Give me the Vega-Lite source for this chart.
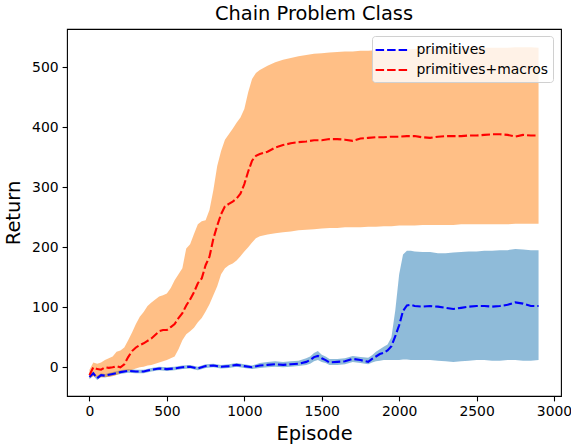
{
  "$schema": "https://vega.github.io/schema/vega-lite/v6.json",
  "autosize": {"type": "none"},
  "width": 494,
  "height": 367,
  "padding": {"left": 67, "top": 29, "right": 10, "bottom": 51},
  "background": "white",
  "title": {"text": "Chain Problem Class", "font": "DejaVu Sans", "fontSize": 19.4, "fontWeight": "normal", "color": "black", "frame": "group", "offset": 5},
  "config": {
    "view": {"stroke": "black", "strokeWidth": 1.1},
    "axis": {"domain": false, "grid": false, "tickColor": "black", "tickWidth": 1.1, "tickSize": 4.9, "labelFont": "DejaVu Sans", "labelFontSize": 13.9, "labelColor": "black", "labelPadding": 4, "titleFont": "DejaVu Sans", "titleFontSize": 19.4, "titleFontWeight": "normal", "titleColor": "black"},
    "legend": {"labelFont": "DejaVu Sans", "labelFontSize": 13.9, "labelColor": "black"}
  },
  "datasets": {"rows": [
    {"ep":0,"s":"primitives","m":-16,"lo":-20,"hi":-12},
    {"ep":25,"s":"primitives","m":-10,"lo":-14,"hi":-7},
    {"ep":50,"s":"primitives","m":-18,"lo":-21,"hi":-14},
    {"ep":75,"s":"primitives","m":-13,"lo":-16,"hi":-10},
    {"ep":100,"s":"primitives","m":-14,"lo":-17,"hi":-11},
    {"ep":150,"s":"primitives","m":-11,"lo":-14,"hi":-8},
    {"ep":200,"s":"primitives","m":-8,"lo":-11,"hi":-5},
    {"ep":250,"s":"primitives","m":-6,"lo":-9,"hi":-3},
    {"ep":300,"s":"primitives","m":-7,"lo":-10,"hi":-4},
    {"ep":350,"s":"primitives","m":-7,"lo":-10,"hi":-4},
    {"ep":400,"s":"primitives","m":-4,"lo":-7,"hi":-1},
    {"ep":450,"s":"primitives","m":-2,"lo":-5,"hi":1},
    {"ep":500,"s":"primitives","m":-3,"lo":-6,"hi":0},
    {"ep":550,"s":"primitives","m":-2,"lo":-5,"hi":1},
    {"ep":600,"s":"primitives","m":0,"lo":-3,"hi":3},
    {"ep":650,"s":"primitives","m":1,"lo":-2,"hi":4},
    {"ep":700,"s":"primitives","m":-2,"lo":-5,"hi":1},
    {"ep":750,"s":"primitives","m":2,"lo":-1,"hi":5},
    {"ep":800,"s":"primitives","m":3,"lo":0,"hi":6},
    {"ep":850,"s":"primitives","m":1,"lo":-2,"hi":4},
    {"ep":900,"s":"primitives","m":2,"lo":-1,"hi":5},
    {"ep":950,"s":"primitives","m":4,"lo":1,"hi":7},
    {"ep":1000,"s":"primitives","m":2,"lo":-1,"hi":5},
    {"ep":1050,"s":"primitives","m":0,"lo":-3,"hi":3},
    {"ep":1100,"s":"primitives","m":3,"lo":-1,"hi":7},
    {"ep":1150,"s":"primitives","m":4,"lo":0,"hi":9},
    {"ep":1200,"s":"primitives","m":5,"lo":1,"hi":10},
    {"ep":1250,"s":"primitives","m":4,"lo":0,"hi":9},
    {"ep":1300,"s":"primitives","m":5,"lo":1,"hi":10},
    {"ep":1350,"s":"primitives","m":6,"lo":2,"hi":11},
    {"ep":1400,"s":"primitives","m":9,"lo":4,"hi":15},
    {"ep":1425,"s":"primitives","m":12,"lo":6,"hi":18},
    {"ep":1450,"s":"primitives","m":17,"lo":10,"hi":24},
    {"ep":1475,"s":"primitives","m":19,"lo":12,"hi":27},
    {"ep":1500,"s":"primitives","m":15,"lo":9,"hi":21},
    {"ep":1525,"s":"primitives","m":12,"lo":7,"hi":18},
    {"ep":1550,"s":"primitives","m":8,"lo":4,"hi":14},
    {"ep":1600,"s":"primitives","m":9,"lo":4,"hi":14},
    {"ep":1650,"s":"primitives","m":10,"lo":5,"hi":15},
    {"ep":1700,"s":"primitives","m":14,"lo":9,"hi":19},
    {"ep":1750,"s":"primitives","m":12,"lo":7,"hi":17},
    {"ep":1800,"s":"primitives","m":9,"lo":5,"hi":16},
    {"ep":1825,"s":"primitives","m":14,"lo":8,"hi":20},
    {"ep":1850,"s":"primitives","m":18,"lo":10,"hi":26},
    {"ep":1875,"s":"primitives","m":22,"lo":11,"hi":30},
    {"ep":1900,"s":"primitives","m":24,"lo":12,"hi":34},
    {"ep":1925,"s":"primitives","m":28,"lo":12,"hi":38},
    {"ep":1950,"s":"primitives","m":35,"lo":12,"hi":50},
    {"ep":1975,"s":"primitives","m":52,"lo":12,"hi":95},
    {"ep":2000,"s":"primitives","m":70,"lo":12,"hi":155},
    {"ep":2025,"s":"primitives","m":94,"lo":13,"hi":188},
    {"ep":2050,"s":"primitives","m":103,"lo":13,"hi":194},
    {"ep":2075,"s":"primitives","m":104,"lo":12,"hi":194},
    {"ep":2100,"s":"primitives","m":102,"lo":12,"hi":193},
    {"ep":2150,"s":"primitives","m":101,"lo":12,"hi":192},
    {"ep":2200,"s":"primitives","m":102,"lo":12,"hi":192},
    {"ep":2250,"s":"primitives","m":101,"lo":11,"hi":190},
    {"ep":2300,"s":"primitives","m":99,"lo":10,"hi":190},
    {"ep":2350,"s":"primitives","m":97,"lo":9,"hi":191},
    {"ep":2400,"s":"primitives","m":99,"lo":10,"hi":192},
    {"ep":2450,"s":"primitives","m":101,"lo":11,"hi":193},
    {"ep":2500,"s":"primitives","m":102,"lo":12,"hi":193},
    {"ep":2550,"s":"primitives","m":102,"lo":12,"hi":194},
    {"ep":2600,"s":"primitives","m":101,"lo":11,"hi":194},
    {"ep":2650,"s":"primitives","m":102,"lo":11,"hi":195},
    {"ep":2700,"s":"primitives","m":104,"lo":12,"hi":195},
    {"ep":2750,"s":"primitives","m":108,"lo":12,"hi":197},
    {"ep":2800,"s":"primitives","m":106,"lo":11,"hi":196},
    {"ep":2850,"s":"primitives","m":102,"lo":11,"hi":195},
    {"ep":2900,"s":"primitives","m":102,"lo":12,"hi":195},
    {"ep":0,"s":"primitives+macros","m":-13,"lo":-18,"hi":-4},
    {"ep":25,"s":"primitives+macros","m":0,"lo":-15,"hi":8},
    {"ep":50,"s":"primitives+macros","m":-3,"lo":-16,"hi":6},
    {"ep":75,"s":"primitives+macros","m":-4,"lo":-17,"hi":8},
    {"ep":100,"s":"primitives+macros","m":0,"lo":-16,"hi":12},
    {"ep":125,"s":"primitives+macros","m":-1,"lo":-16,"hi":15},
    {"ep":150,"s":"primitives+macros","m":0,"lo":-15,"hi":18},
    {"ep":175,"s":"primitives+macros","m":2,"lo":-13,"hi":26},
    {"ep":200,"s":"primitives+macros","m":0,"lo":-10,"hi":28},
    {"ep":225,"s":"primitives+macros","m":5,"lo":-8,"hi":33},
    {"ep":250,"s":"primitives+macros","m":17,"lo":-6,"hi":45},
    {"ep":275,"s":"primitives+macros","m":27,"lo":-4,"hi":58},
    {"ep":300,"s":"primitives+macros","m":33,"lo":-2,"hi":72},
    {"ep":325,"s":"primitives+macros","m":37,"lo":0,"hi":84},
    {"ep":350,"s":"primitives+macros","m":40,"lo":1,"hi":92},
    {"ep":375,"s":"primitives+macros","m":44,"lo":3,"hi":102},
    {"ep":400,"s":"primitives+macros","m":48,"lo":4,"hi":108},
    {"ep":450,"s":"primitives+macros","m":60,"lo":8,"hi":118},
    {"ep":475,"s":"primitives+macros","m":62,"lo":10,"hi":120},
    {"ep":500,"s":"primitives+macros","m":62,"lo":12,"hi":123},
    {"ep":525,"s":"primitives+macros","m":67,"lo":15,"hi":132},
    {"ep":550,"s":"primitives+macros","m":72,"lo":18,"hi":145},
    {"ep":575,"s":"primitives+macros","m":82,"lo":30,"hi":155},
    {"ep":600,"s":"primitives+macros","m":90,"lo":45,"hi":165},
    {"ep":625,"s":"primitives+macros","m":103,"lo":55,"hi":198},
    {"ep":650,"s":"primitives+macros","m":113,"lo":60,"hi":205},
    {"ep":675,"s":"primitives+macros","m":125,"lo":66,"hi":222},
    {"ep":700,"s":"primitives+macros","m":140,"lo":75,"hi":238},
    {"ep":725,"s":"primitives+macros","m":148,"lo":82,"hi":243},
    {"ep":750,"s":"primitives+macros","m":170,"lo":93,"hi":245},
    {"ep":775,"s":"primitives+macros","m":184,"lo":105,"hi":262},
    {"ep":800,"s":"primitives+macros","m":214,"lo":120,"hi":295},
    {"ep":825,"s":"primitives+macros","m":236,"lo":135,"hi":335},
    {"ep":850,"s":"primitives+macros","m":255,"lo":155,"hi":360},
    {"ep":875,"s":"primitives+macros","m":268,"lo":165,"hi":379},
    {"ep":900,"s":"primitives+macros","m":272,"lo":170,"hi":388},
    {"ep":925,"s":"primitives+macros","m":276,"lo":173,"hi":397},
    {"ep":950,"s":"primitives+macros","m":281,"lo":178,"hi":407},
    {"ep":975,"s":"primitives+macros","m":289,"lo":185,"hi":416},
    {"ep":1000,"s":"primitives+macros","m":305,"lo":193,"hi":430},
    {"ep":1025,"s":"primitives+macros","m":326,"lo":200,"hi":458},
    {"ep":1050,"s":"primitives+macros","m":344,"lo":208,"hi":480},
    {"ep":1075,"s":"primitives+macros","m":352,"lo":215,"hi":490},
    {"ep":1100,"s":"primitives+macros","m":355,"lo":218,"hi":495},
    {"ep":1150,"s":"primitives+macros","m":359,"lo":221,"hi":502},
    {"ep":1200,"s":"primitives+macros","m":366,"lo":223,"hi":508},
    {"ep":1250,"s":"primitives+macros","m":370,"lo":225,"hi":512},
    {"ep":1300,"s":"primitives+macros","m":373,"lo":226,"hi":515},
    {"ep":1350,"s":"primitives+macros","m":375,"lo":228,"hi":518},
    {"ep":1400,"s":"primitives+macros","m":376,"lo":229,"hi":520},
    {"ep":1450,"s":"primitives+macros","m":378,"lo":230,"hi":522},
    {"ep":1500,"s":"primitives+macros","m":378,"lo":231,"hi":523},
    {"ep":1550,"s":"primitives+macros","m":380,"lo":232,"hi":524},
    {"ep":1600,"s":"primitives+macros","m":380,"lo":232,"hi":525},
    {"ep":1650,"s":"primitives+macros","m":379,"lo":233,"hi":526},
    {"ep":1700,"s":"primitives+macros","m":377,"lo":233,"hi":526},
    {"ep":1750,"s":"primitives+macros","m":381,"lo":233,"hi":527},
    {"ep":1800,"s":"primitives+macros","m":382,"lo":234,"hi":527},
    {"ep":1850,"s":"primitives+macros","m":383,"lo":234,"hi":528},
    {"ep":1900,"s":"primitives+macros","m":383,"lo":235,"hi":528},
    {"ep":1950,"s":"primitives+macros","m":384,"lo":235,"hi":529},
    {"ep":2000,"s":"primitives+macros","m":384,"lo":236,"hi":529},
    {"ep":2050,"s":"primitives+macros","m":385,"lo":236,"hi":529},
    {"ep":2100,"s":"primitives+macros","m":385,"lo":236,"hi":530},
    {"ep":2150,"s":"primitives+macros","m":383,"lo":237,"hi":530},
    {"ep":2200,"s":"primitives+macros","m":382,"lo":237,"hi":530},
    {"ep":2250,"s":"primitives+macros","m":384,"lo":237,"hi":530},
    {"ep":2300,"s":"primitives+macros","m":385,"lo":237,"hi":531},
    {"ep":2350,"s":"primitives+macros","m":385,"lo":237,"hi":531},
    {"ep":2400,"s":"primitives+macros","m":385,"lo":238,"hi":531},
    {"ep":2450,"s":"primitives+macros","m":386,"lo":238,"hi":531},
    {"ep":2500,"s":"primitives+macros","m":386,"lo":238,"hi":532},
    {"ep":2550,"s":"primitives+macros","m":387,"lo":238,"hi":532},
    {"ep":2600,"s":"primitives+macros","m":388,"lo":238,"hi":532},
    {"ep":2650,"s":"primitives+macros","m":388,"lo":238,"hi":532},
    {"ep":2700,"s":"primitives+macros","m":387,"lo":238,"hi":532},
    {"ep":2750,"s":"primitives+macros","m":384,"lo":239,"hi":533},
    {"ep":2800,"s":"primitives+macros","m":387,"lo":239,"hi":533},
    {"ep":2850,"s":"primitives+macros","m":386,"lo":239,"hi":533},
    {"ep":2900,"s":"primitives+macros","m":386,"lo":239,"hi":532}
  ]},
  "data": {"name": "rows"},
  "encoding": {
    "x": {"field": "ep", "type": "quantitative", "scale": {"domain": [-145, 3045], "nice": false, "zero": false},
          "axis": {"title": "Episode", "format": "d", "values": [0, 500, 1000, 1500, 2000, 2500, 3000], "titlePadding": 6}}
  },
  "layer": [
    {
      "transform": [{"filter": "datum.s === 'primitives'"}],
      "mark": {"type": "area", "color": "#1f77b4", "fillOpacity": 0.5},
      "encoding": {
        "y": {"field": "lo", "type": "quantitative", "scale": {"domain": [-47.8, 563.3], "nice": false, "zero": false},
              "axis": {"title": "Return", "values": [0, 100, 200, 300, 400, 500], "titlePadding": 8}},
        "y2": {"field": "hi"}
      }
    },
    {
      "transform": [{"filter": "datum.s === 'primitives+macros'"}],
      "mark": {"type": "area", "color": "#ff7f0e", "fillOpacity": 0.5},
      "encoding": {
        "y": {"field": "lo", "type": "quantitative"},
        "y2": {"field": "hi"}
      }
    },
    {
      "mark": {"type": "line", "strokeWidth": 2.1, "strokeDash": [8.5, 3], "strokeCap": "butt"},
      "encoding": {
        "y": {"field": "m", "type": "quantitative"},
        "color": {"field": "s", "type": "nominal", "scale": {"domain": ["primitives", "primitives+macros"], "range": ["#0000ff", "#ff0000"]},
          "legend": {"title": null, "orient": "none", "legendX": 305, "legendY": 7, "symbolType": "M-1.3,0H2.7", "symbolSize": 256, "symbolStrokeWidth": 2.1, "symbolDash": [8.5, 3], "symbolFillColor": "transparent", "labelOffset": 21, "rowPadding": 3, "padding": 4.5, "strokeColor": "#d0d0d0", "fillColor": "rgba(255,255,255,0.8)", "cornerRadius": 3}}
      }
    }
  ]
}
